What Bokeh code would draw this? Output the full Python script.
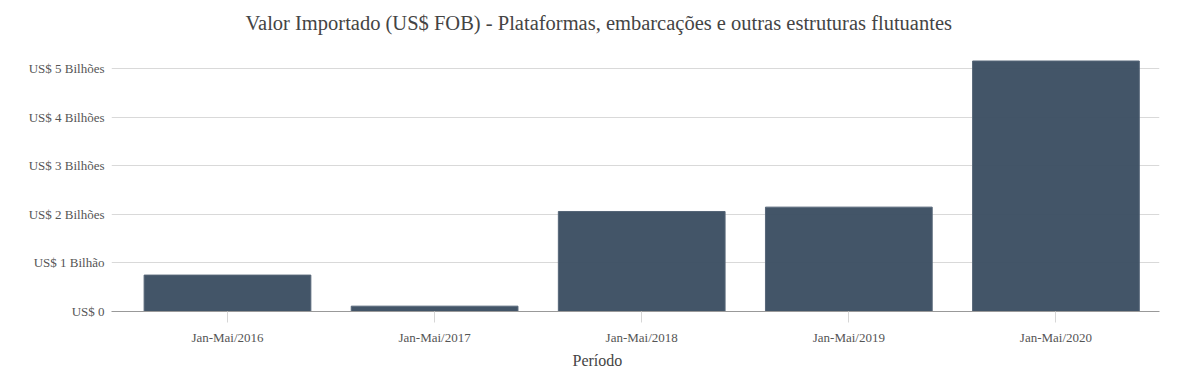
from bokeh.plotting import figure
from bokeh.models import FixedTicker, Range1d, Title
from bokeh.embed import file_html
from bokeh.resources import INLINE

categories = ["Jan-Mai/2016", "Jan-Mai/2017", "Jan-Mai/2018", "Jan-Mai/2019", "Jan-Mai/2020"]
values = [0.75e9, 0.11e9, 2.06e9, 2.15e9, 5.16e9]
y_ticks = [0, 1e9, 2e9, 3e9, 4e9, 5e9]
y_tick_labels = ["US$ 0", "US$ 1 Bilhão", "US$ 2 Bilhões", "US$ 3 Bilhões", "US$ 4 Bilhões", "US$ 5 Bilhões"]
title_text = "Valor Importado (US$ FOB) - Plataformas, embarcações e outras estruturas flutuantes"
x_label = "Período"

FONT = "Liberation Serif"
idx = list(range(len(categories)))

p = figure(width=1186, height=376, output_backend="svg", toolbar_location=None,
           x_range=Range1d(-0.56, 4.5), y_range=Range1d(0, 5.5e9),
           min_border_left=111, min_border_right=27, min_border_top=44, min_border_bottom=65)
p.outline_line_color = None
p.background_fill_color = "white"
p.border_fill_color = "white"

p.vbar(x=idx, top=values, width=0.805, fill_color="#3d4f63", fill_alpha=0.97,
       line_color="#566678", line_width=1)

p.title = Title(text=title_text, align="left", offset=134, text_font=FONT,
                text_font_size="20.5px", text_font_style="normal", text_color="#444444",
                standoff=19, vertical_align="middle")

xa = p.xaxis[0]
xa.ticker = FixedTicker(ticks=idx)
xa.major_label_overrides = {i: c for i, c in zip(idx, categories)}
xa.major_label_text_font = FONT
xa.major_label_text_font_size = "13px"
xa.major_label_text_color = "#555555"
xa.axis_line_color = "#999999"
xa.axis_line_width = 1
xa.major_tick_line_color = "#d6d6d6"
xa.major_tick_out = 11
xa.major_tick_in = 0
xa.minor_tick_line_color = None
xa.major_label_standoff = 7

ya = p.yaxis[0]
ya.ticker = FixedTicker(ticks=y_ticks)
ya.major_label_overrides = {t: l for t, l in zip(y_ticks, y_tick_labels)}
ya.major_label_text_font = FONT
ya.major_label_text_font_size = "13px"
ya.major_label_text_color = "#555555"
ya.axis_line_color = None
ya.major_tick_line_color = None
ya.minor_tick_line_color = None
ya.major_label_standoff = 1

p.xgrid.grid_line_color = None
p.ygrid.grid_line_color = "#d9d9d9"
p.ygrid.grid_line_width = 1

p.add_layout(Title(text=x_label, align="left", offset=461, text_font=FONT,
                   text_font_size="16px", text_font_style="normal", text_color="#444444",
                   standoff=4), "below")

open("out.html", "w").write(file_html(p, INLINE))
